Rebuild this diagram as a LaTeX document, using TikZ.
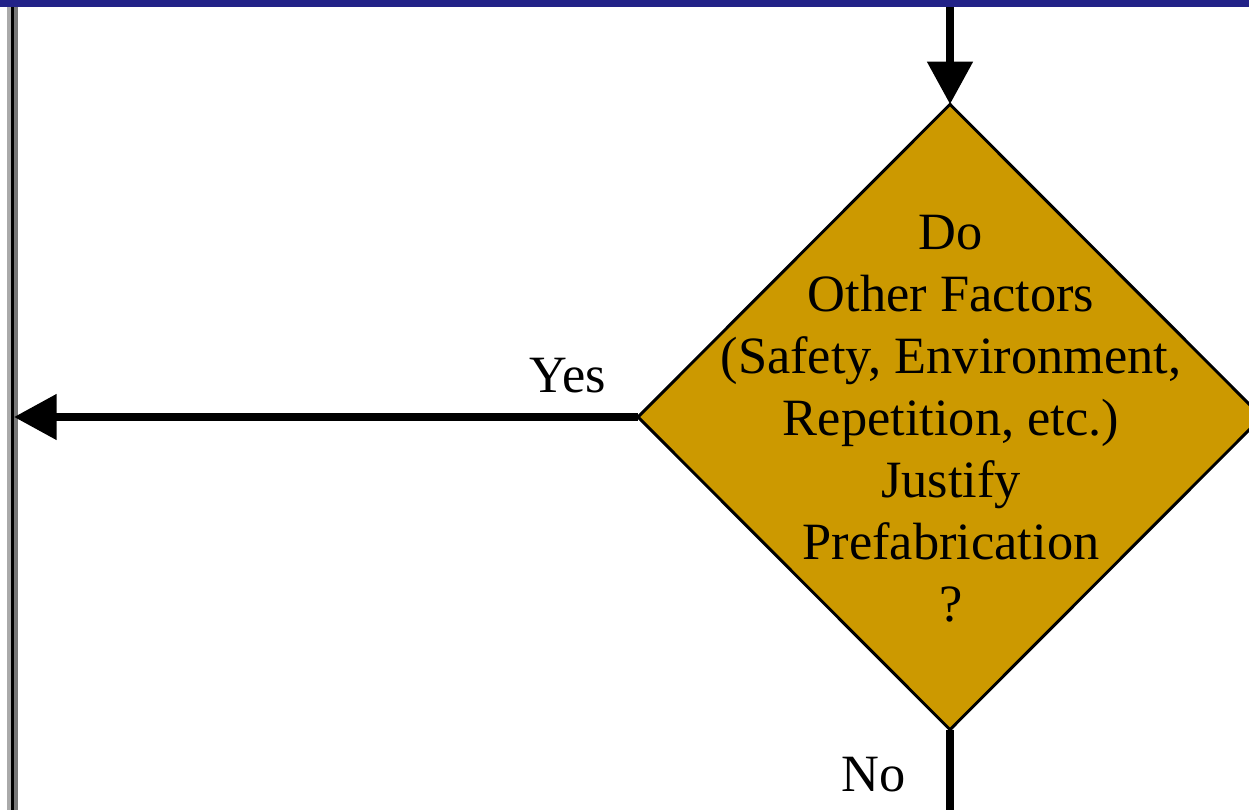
\documentclass[tikz,border=0pt]{standalone}
\usepackage{fontspec}
\setmainfont{Liberation Serif}
\usetikzlibrary{shapes.geometric,arrows.meta}
\definecolor{band}{RGB}{34,34,136}
\definecolor{gold}{RGB}{204,153,0}
\definecolor{lgray}{RGB}{170,170,170}
\definecolor{dgray}{RGB}{120,120,120}
\begin{document}
\begin{tikzpicture}[x=0.75pt,y=-0.75pt,
  decision/.style={diamond,draw=black,line width=2.2pt,fill=gold,minimum width=468pt,minimum height=469pt,inner sep=0pt,outer sep=0pt,aspect=1},
  txt/.style={font=\fontsize{39.3}{46.5}\selectfont,inner sep=0pt,align=center},
  lbl/.style={font=\fontsize{39.3}{46.5}\selectfont,inner sep=0pt,anchor=base},
  flow/.style={line width=6pt,black},
  arr/.style={flow,-{Triangle[length=32pt,width=33pt]}}]
\useasboundingbox (0,0) rectangle (1249,810);
\clip (0,0) rectangle (1249,810);
% left bus line
\fill[lgray] (7,0) rectangle (11,810);
\fill[black] (11,0) rectangle (14,810);
\fill[dgray] (14,0) rectangle (18,810);
% decision
\node[decision] (d) at (950,417) {};
\node[txt] (dt) at (951,419) {Do\\Other Factors\\(Safety, Environment,\\Repetition, etc.)\\Justify\\Prefabrication\\?};
\coordinate (tp) at (950,0);
\coordinate (lt) at (14,417);
\coordinate (bt) at (950,810);
\draw[arr] (tp) -- (d.north);
\draw[arr] (d.west) -- (lt);
\draw[flow] (d.south) -- (bt);
\node[lbl] (yes) at (568,392) {Yes};
\node[lbl] (no) at (874,791) {No};
% top band
\fill[band] (0,0) rectangle (1249,7);
\end{tikzpicture}
\end{document}
